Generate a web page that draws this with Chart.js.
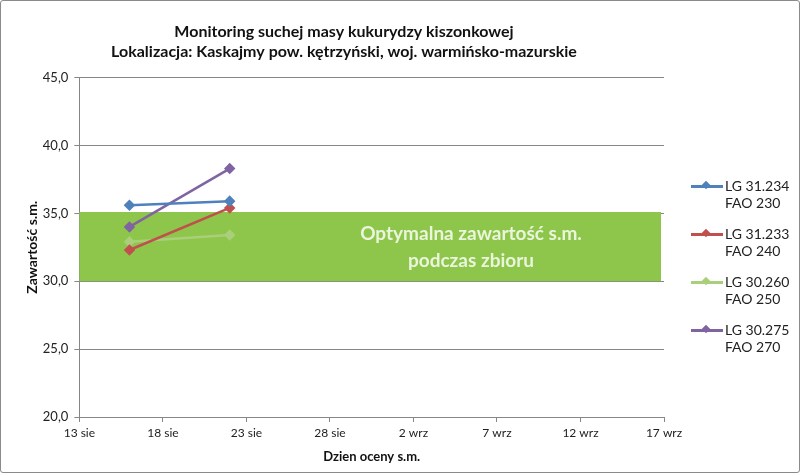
<!DOCTYPE html>
<html>
<head>
<meta charset="utf-8">
<script src="https://cdn.jsdelivr.net/npm/chart.js@4.4.0/dist/chart.umd.min.js"></script>
<style>
	html, body { margin: 0; padding: 0; background: #fff; }
	#wrap { position: relative; width: 800px; height: 473px; box-sizing: border-box; border: 1px solid #8a8a8a; border-radius: 3px; }
	canvas { position: absolute; left: 0; top: 0; }
	#legend { position: absolute; left: 690px; top: 176px; font-family: Lato, "Open Sans", sans-serif; font-size: 14px; color: #222; }
	.item { position: relative; height: 48px; line-height: 17px; }
	.swatch { position: absolute; left: 0; top: 8px; width: 32px; height: 3px; }
	.swatch i { position: absolute; left: 12px; top: -3px; width: 6px; height: 6px; transform: rotate(45deg); background: inherit; }
	.txt { position: absolute; left: 34px; top: 0; white-space: nowrap; }
</style>
</head>
<body>
<div id="wrap">
	<canvas id="chart" width="800" height="473"></canvas>
	<div id="legend"></div>
</div>
<script>
// day of August (32 = 1 wrz)
const xDays = [16, 22];
const xTicks = [13, 18, 23, 28, 33, 38, 43, 48];
const xTickLabels = ['13 sie', '18 sie', '23 sie', '28 sie', '2 wrz', '7 wrz', '12 wrz', '17 wrz'];

const seriesNames = [['LG 31.234', 'FAO 230'], ['LG 31.233', 'FAO 240'], ['LG 30.260', 'FAO 250'], ['LG 30.275', 'FAO 270']];
const lg31234 = [35.6, 35.9];
const lg31233 = [32.3, 35.4];
const lg30260 = [32.9, 33.4];
const lg30275 = [34.0, 38.3];
const seriesColors = ['#4f81bd', '#c0504d', '#a9cf7a', '#8064a2'];

const optimumRange = [30, 35.1];

const allSeries = [lg31234, lg31233, lg30260, lg30275];

const bandPlugin = {
	id: 'band',
	beforeDatasetsDraw(chart) {
		const { ctx, chartArea, scales } = chart;
		const yTop = scales.y.getPixelForValue(optimumRange[1]);
		const yBot = scales.y.getPixelForValue(optimumRange[0]);
		ctx.save();
		ctx.fillStyle = '#8dc64a';
		ctx.fillRect(chartArea.left, yTop, chartArea.right - chartArea.left - 3, yBot - yTop);
		ctx.fillStyle = '#eaf5dc';
		ctx.font = 'bold 19px Lato, "Open Sans", sans-serif';
		ctx.textAlign = 'center';
		ctx.textBaseline = 'middle';
		const cx = 470;
		const cy = (yTop + yBot) / 2;
		ctx.fillText('Optymalna zawartość s.m.', cx, cy - 13);
		ctx.fillText('podczas zbioru', cx, cy + 14);
		ctx.restore();
	}
};

const ctx = document.getElementById('chart').getContext('2d');
new Chart(ctx, {
	type: 'line',
	data: {
		datasets: allSeries.map((s, i) => ({
			label: seriesNames[i].join(' '),
			data: s.map((v, j) => ({ x: xDays[j], y: v })),
			borderColor: seriesColors[i],
			backgroundColor: seriesColors[i],
			borderWidth: 2.5,
			pointStyle: 'rectRot',
			pointRadius: 4,
			pointHoverRadius: 4
		}))
	},
	options: {
		responsive: false,
		animation: false,
		layout: { padding: { left: 23, right: 137, top: 6, bottom: 5 } },
		plugins: {
			legend: { display: false },
			tooltip: { enabled: false },
			title: {
				display: true,
				text: ['Monitoring suchej masy kukurydzy kiszonkowej', 'Lokalizacja: Kaskajmy pow. kętrzyński, woj. warmińsko-mazurskie'],
				color: '#111',
				font: { family: 'Lato, "Open Sans", sans-serif', size: 16, weight: 'bold', lineHeight: 1.3 },
				padding: { top: 14, bottom: 15 }
			}
		},
		scales: {
			x: {
				type: 'linear',
				min: 13,
				max: 48,
				afterBuildTicks(axis) { axis.ticks = xTicks.map(v => ({ value: v })); },
				ticks: {
					color: '#222',
					font: { family: 'Lato, "Open Sans", sans-serif', size: 12 },
					callback: (v) => xTickLabels[xTicks.indexOf(v)],
					padding: 4,
					maxRotation: 0
				},
				grid: { drawOnChartArea: false, color: '#868686', tickLength: 5 },
				border: { color: '#868686' },
				title: {
					display: true,
					text: 'Dzien oceny s.m.',
					color: '#111',
					font: { family: 'Lato, "Open Sans", sans-serif', size: 13, weight: 'bold' },
					padding: { top: 5 }
				}
			},
			y: {
				min: 20,
				max: 45,
				ticks: {
					stepSize: 5,
					color: '#222',
					font: { family: 'Lato, "Open Sans", sans-serif', size: 13 },
					callback: (v) => v.toFixed(1).replace('.', ','),
					padding: 6
				},
				grid: { color: '#868686', tickLength: 5 },
				border: { color: '#868686' },
				title: {
					display: true,
					text: 'Zawartość s.m.',
					color: '#111',
					font: { family: 'Lato, "Open Sans", sans-serif', size: 14, weight: 'bold' },
					padding: { top: 0, bottom: -4 }
				}
			}
		}
	},
	plugins: [bandPlugin]
});

const legend = document.getElementById('legend');
seriesNames.forEach((lines, i) => {
	const item = document.createElement('div');
	item.className = 'item';
	item.innerHTML = '<div class="swatch" style="background:' + seriesColors[i] + '"><i></i></div>' +
		'<div class="txt">' + lines.join('<br>') + '</div>';
	legend.appendChild(item);
});
</script>
</body>
</html>
